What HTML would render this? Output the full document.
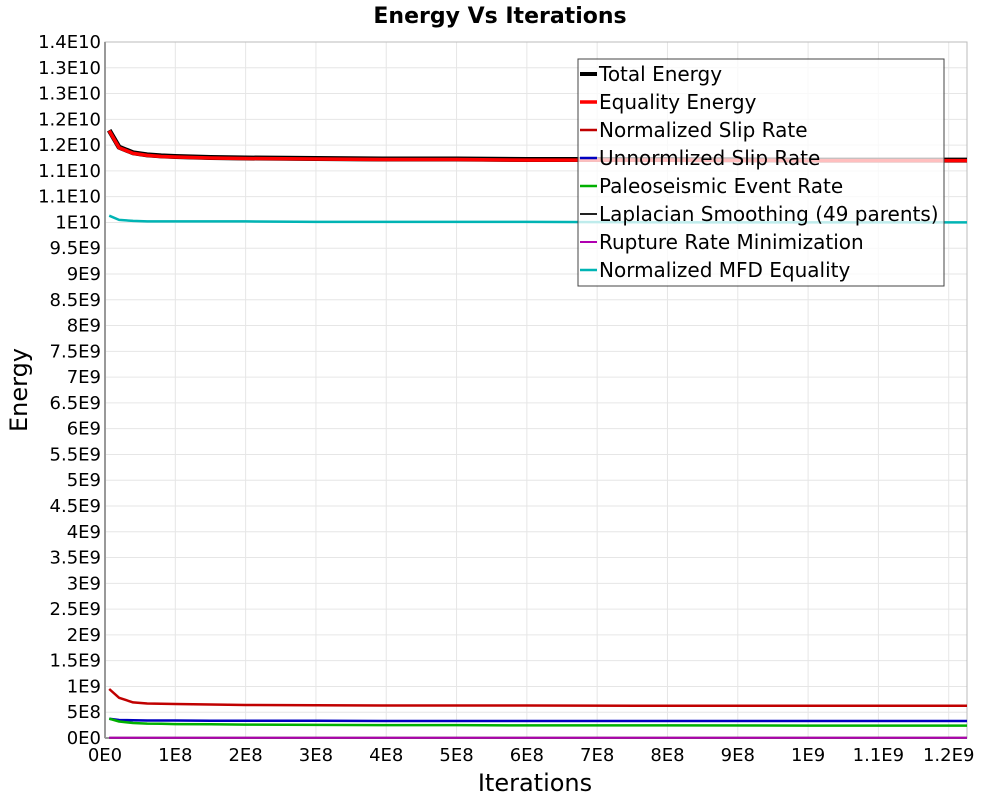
<!DOCTYPE html>
<html><head><meta charset="utf-8"><style>
body{margin:0;background:#fff;font-family:"DejaVu Sans","Liberation Sans",sans-serif;}
svg text{font-family:"DejaVu Sans","Liberation Sans",sans-serif;}
</style></head><body>
<svg id="chart" width="1000" height="800" xmlns="http://www.w3.org/2000/svg">
<rect width="1000" height="800" fill="#fff"/>
<text x="500" y="23" text-anchor="middle" font-size="22" font-weight="bold">Energy Vs Iterations</text>
<g id="grid"></g><g id="axes"></g><g id="series"></g><g id="legend"></g>
<text x="535" y="791" text-anchor="middle" font-size="24">Iterations</text>
<text transform="translate(27,390) rotate(-90)" text-anchor="middle" font-size="24">Energy</text>
</svg>
<script>
const iterations = [0.06,0.2,0.4,0.6,0.8,1,1.5,2,3,4,5,6,8,10,12.26]; // x in 1E8
const totalEnergy = [11.79,11.46,11.35,11.31,11.29,11.28,11.26,11.25,11.24,11.23,11.23,11.22,11.22,11.21,11.21]; // in 1E9
const equalityEnergy = [11.78,11.45,11.34,11.30,11.28,11.27,11.25,11.24,11.23,11.22,11.22,11.21,11.21,11.20,11.20];
const normSlip = [0.95,0.78,0.69,0.67,0.665,0.66,0.65,0.64,0.635,0.63,0.63,0.63,0.625,0.625,0.625];
const unnormSlip = [0.375,0.35,0.345,0.34,0.34,0.34,0.335,0.335,0.335,0.33,0.33,0.33,0.33,0.33,0.33];
const paleo = [0.375,0.32,0.29,0.28,0.275,0.27,0.265,0.26,0.255,0.25,0.25,0.245,0.245,0.24,0.24];
const laplacian = [0.005,0.005,0.005,0.005,0.005,0.005,0.005,0.005,0.005,0.005,0.005,0.005,0.005,0.005,0.005];
const ruptureMin = [0.006,0.006,0.006,0.006,0.006,0.006,0.006,0.006,0.006,0.006,0.006,0.006,0.006,0.006,0.006];
const mfdEquality = [10.13,10.05,10.03,10.02,10.02,10.02,10.02,10.02,10.01,10.01,10.01,10.01,10.0,10.0,10.0];
const xTickLabels = ["0E0","1E8","2E8","3E8","4E8","5E8","6E8","7E8","8E8","9E8","1E9","1.1E9","1.2E9"];
const yTickLabels = ["0E0","5E8","1E9","1.5E9","2E9","2.5E9","3E9","3.5E9","4E9","4.5E9","5E9","5.5E9","6E9","6.5E9","7E9","7.5E9","8E9","8.5E9","9E9","9.5E9","1E10","1.1E10","1.1E10","1.2E10","1.2E10","1.3E10","1.3E10","1.4E10"];
const legendLabels = ["Total Energy","Equality Energy","Normalized Slip Rate","Unnormlized Slip Rate","Paleoseismic Event Rate","Laplacian Smoothing (49 parents)","Rupture Rate Minimization","Normalized MFD Equality"];

const L=105,R=967,T=42,B=738,XMAX=12.26,YMAX=13.5;
const X=v=>L+v/XMAX*(R-L), Y=v=>B-v/YMAX*(B-T);
const NS="http://www.w3.org/2000/svg";
function mk(t,a,p){const e=document.createElementNS(NS,t);for(const k in a)e.setAttribute(k,a[k]);p.appendChild(e);return e;}
const grid=document.getElementById('grid'),axes=document.getElementById('axes'),ser=document.getElementById('series'),leg=document.getElementById('legend');
xTickLabels.forEach((s,i)=>{const x=X(i);
 const g=mk('line',{x1:x,x2:x,y1:T,y2:B,stroke:'#e6e6e6'},grid);
 
 
 const t=mk('text',{x:x,y:B+23,'text-anchor':'middle','font-size':18},axes);t.textContent=s;
 
 });
yTickLabels.forEach((s,i)=>{const y=Y(i*0.5);
 const g=mk('line',{x1:L,x2:R,y1:y,y2:y,stroke:'#e6e6e6'},grid);
 
 
 const t=mk('text',{x:L-4,y:y+6,'text-anchor':'end','font-size':18},axes);t.textContent=s;
 
 });
const fr=mk('rect',{x:L,y:T,width:R-L,height:B-T,fill:'none',stroke:'#bbb'},axes);


const ax1=mk('line',{x1:L,x2:L,y1:T,y2:B,stroke:'#999','stroke-width':2},axes);


const ax2=mk('line',{x1:L,x2:R,y1:B,y2:B,stroke:'#999','stroke-width':2},axes);


const series=[[totalEnergy,'#000',5],[equalityEnergy,'#f00',3.5],[normSlip,'#c00000',2.5],[unnormSlip,'#0000c0',2.5],[paleo,'#00b000',2.5],[laplacian,'#222',2],[ruptureMin,'#b000b0',2],[mfdEquality,'#00b4b4',2.5]];
series.forEach((s,i)=>{const d=s[0].map((v,j)=>(j?'L':'M')+X(iterations[j]).toFixed(1)+','+Y(v).toFixed(1)).join('');
 const p=mk('path',{d:d,fill:'none',stroke:s[1],'stroke-width':s[2],'stroke-linejoin':'round'},ser);
 
 });
const lb=mk('rect',{x:578,y:59,width:366,height:227,fill:'rgba(255,255,255,0.75)',stroke:'#444'},leg);


legendLabels.forEach((s,i)=>{const y=74+i*28;
 const l=mk('line',{x1:580,x2:597,y1:y,y2:y,stroke:series[i][1],'stroke-width':Math.min(series[i][2],4)},leg);
 
 
 const t=mk('text',{x:599,y:y+7,'font-size':20,textLength:null},leg);t.removeAttribute('textLength');t.textContent=s;
 
 });
</script>
</body></html>
